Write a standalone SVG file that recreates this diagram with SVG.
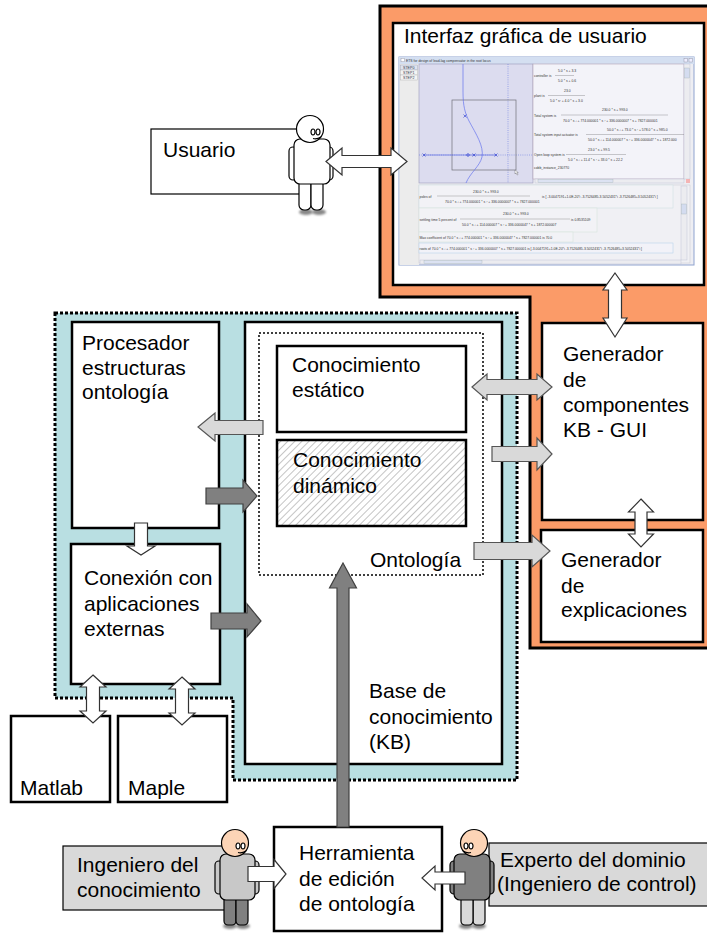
<svg xmlns="http://www.w3.org/2000/svg" width="707" height="938" viewBox="0 0 707 938">
  <style>
    .box { fill: #ffffff; stroke: #000000; stroke-width: 2.5; }
    .thin { fill: #ffffff; stroke: #000000; stroke-width: 1.2; }
    .grey { fill: #d9d9d9; stroke: #000000; stroke-width: 1.2; }
    .lbl { font-family: "Liberation Sans", Arial, sans-serif; font-size: 21px; fill: #000000; }
    .arW { fill: #ffffff; stroke: #333333; stroke-width: 1.2; stroke-linejoin: miter; }
    .arL { fill: #d9d9d9; stroke: #555555; stroke-width: 1.2; }
    .arD { fill: #808080; stroke: #404040; stroke-width: 1.2; }
    .tiny { font-family: "Liberation Sans", Arial, sans-serif; font-size: 3.4px; fill: #333333; }
    .tab { font-family: "Liberation Sans", Arial, sans-serif; font-size: 3.6px; fill: #334; }
    .fig { stroke: #000000; stroke-width: 1.2; }
  </style>
  <defs>
    <pattern id="hatch" width="5" height="5" patternUnits="userSpaceOnUse" patternTransform="rotate(45)">
      <rect width="5" height="5" fill="#ffffff"/>
      <line x1="0" y1="0" x2="0" y2="5" stroke="#c4c4c4" stroke-width="2"/>
    </pattern>
    <filter id="soft" x="-50%" y="-50%" width="200%" height="200%">
      <feGaussianBlur stdDeviation="1.2"/>
    </filter>
  </defs>

  <rect width="707" height="938" fill="#ffffff"/>

  <!-- Application region (orange) -->
  <g id="app-region">
    <path d="M380,6 H712 V648 H530 V297 H380 Z" fill="#fb9b68" stroke="#000" stroke-width="3"/>
  </g>

  <!-- Core region (light blue, dotted border) -->
  <g id="core-region">
    <path d="M55,313 H517 V780 H233 V698 H55 Z" fill="#b9dfe2" stroke="#000" stroke-width="3" stroke-dasharray="3 2"/>
  </g>

  <!-- GUI panel with screenshot -->
  <g id="gui">
    <rect x="393" y="23" width="311" height="262" class="box" stroke-width="3"/>
    <text x="404" y="43" class="lbl">Interfaz gráfica de usuario</text>
    <g id="gui-window">
      <rect x="399" y="57" width="295" height="208" fill="#eeeef3" stroke="#8fa3cf" stroke-width="1"/>
      <rect x="399" y="57" width="295" height="7" fill="#d4dff1"/>
      <rect x="401" y="58.3" width="3.5" height="3.5" fill="#fff" stroke="#889" stroke-width="0.4"/>
      <text x="406" y="62.2" class="tiny" fill="#445">ETS for design of lead-lag compensator in the root locus</text>
      <rect x="684" y="58.5" width="3.5" height="3.5" fill="#eef" stroke="#889" stroke-width="0.4"/>
      <rect x="689" y="58.5" width="3.5" height="3.5" fill="#eef" stroke="#889" stroke-width="0.4"/>
      <!-- step tabs -->
      <rect x="399.5" y="64" width="19.5" height="201" fill="#ececec"/>
      <rect x="400.5" y="65" width="17" height="5" fill="#dde3ef" stroke="#99a" stroke-width="0.4"/>
      <rect x="400.5" y="70" width="17" height="5" fill="#f4f4f4" stroke="#aaa" stroke-width="0.4"/>
      <rect x="400.5" y="75" width="17" height="5" fill="#f4f4f4" stroke="#aaa" stroke-width="0.4"/>
      <text x="403" y="69" class="tab">STEP0</text>
      <text x="403" y="74" class="tab">STEP1</text>
      <text x="403" y="79" class="tab">STEP2</text>
      <!-- root locus plot -->
      <rect x="419" y="64" width="114" height="119" fill="#dcdcef" stroke="#9a9ab8" stroke-width="0.6"/>
      <line x1="508" y1="64" x2="508" y2="183" stroke="#6b7de0" stroke-width="0.6" stroke-dasharray="1 1.2"/>
      <line x1="419" y1="155" x2="533" y2="155" stroke="#6b7de0" stroke-width="0.6" stroke-dasharray="1 1.2"/>
      <rect x="452" y="100" width="64" height="70" fill="none" stroke="#6f6f7a" stroke-width="0.7"/>
      <path d="M463,64 L463,92 C463,106 465,113 469,121 C476,134 484,146 482,157 C480,166 470,173 466,183" fill="none" stroke="#6674ee" stroke-width="0.7"/>
      <line x1="424" y1="155" x2="496" y2="155" stroke="#4a5ae0" stroke-width="0.6"/>
      <g stroke="#2233cc" stroke-width="0.6" fill="none">
        <path d="M422.5,153.5 l3,3 m0,-3 l-3,3"/>
        <path d="M463.5,114.5 l3,3 m0,-3 l-3,3"/>
        <path d="M494.5,153.5 l3,3 m0,-3 l-3,3"/>
        <path d="M472.5,153.5 l3,3 m0,-3 l-3,3"/>
        <circle cx="468" cy="155" r="1.3"/>
      </g>
      <path d="M515,170 l0,4 l1,-1 l1.2,2 l0.8,-0.4 l-1.2,-2 l1.5,0 Z" fill="#fff" stroke="#333" stroke-width="0.3"/>
      <!-- result text panel -->
      <rect x="533" y="64" width="151" height="115" fill="#f3f3f9" stroke="#b4a4b4" stroke-width="0.6"/>
      <rect x="684" y="64" width="6" height="115" fill="#ececf0" stroke="#b8bcd0" stroke-width="0.4"/>
      <rect x="684.5" y="68" width="5" height="10" fill="#d4dcf0" stroke="#9aa" stroke-width="0.3"/>
      <rect x="535" y="179" width="149" height="4" fill="#ececf0" stroke="#b8bcd0" stroke-width="0.4"/>
      <rect x="538" y="179.5" width="75" height="3" fill="#dce2f2" stroke="#9aa" stroke-width="0.3"/>
      <rect x="686" y="179" width="4" height="4" fill="#f4b4b4"/>
      <g class="tiny">
        <text x="534" y="77">controller  is</text>
        <text x="558" y="71.5">5.0 * s + 3.3</text>
        <line x1="555" y1="75.5" x2="574" y2="75.5" stroke="#555" stroke-width="0.3"/>
        <text x="558" y="82">5.0 * s + 0.6</text>
        <text x="534" y="97">plant  is</text>
        <text x="564" y="91.5">23.0</text>
        <line x1="548" y1="95.5" x2="585" y2="95.5" stroke="#555" stroke-width="0.3"/>
        <text x="550" y="101.5">5.0 * s² + 4.0 * s + 3.0</text>
        <text x="534" y="117">Total system  is</text>
        <text x="602" y="111">230.0 * s + 993.0</text>
        <line x1="561" y1="115" x2="668" y2="115" stroke="#555" stroke-width="0.3"/>
        <text x="563" y="121.5">70.0 * s ³ + 774.000001 * s ² + 336.0000007 * s + 7827.000001</text>
        <text x="534" y="136">Total system input actuator  is</text>
        <text x="607" y="131">50.0 * s ³ + 73.0 * s ² + 578.0 * s + 985.0</text>
        <line x1="586" y1="134.5" x2="684" y2="134.5" stroke="#555" stroke-width="0.3"/>
        <text x="588" y="141">50.0 * s ³ + 114.000007 * s ² + 336.0000047 * s + 1872.000</text>
        <text x="534" y="156">Open loop system  is</text>
        <text x="588" y="151">23.0 * s + 99.5</text>
        <line x1="566" y1="154.5" x2="626" y2="154.5" stroke="#555" stroke-width="0.3"/>
        <text x="568" y="161">5.0 * s ³ + 11.4 * s ² + 33.0 * s + 22.2</text>
        <text x="534" y="169">cobb_instance_230770</text>
      </g>
      <!-- lower results panel -->
      <rect x="419" y="185" width="271" height="78" fill="#f0f0f4" stroke="#c8c8d0" stroke-width="0.5"/>
      <rect x="419" y="185" width="254" height="23" fill="#f2f2f6" stroke="#cfe0e4" stroke-width="0.6"/>
      <rect x="419" y="208" width="178" height="24" fill="#f2f2f6" stroke="#d6e4dc" stroke-width="0.6"/>
      <rect x="419" y="232" width="154" height="10" fill="#f2f2f6" stroke="#d6e4dc" stroke-width="0.6"/>
      <rect x="419" y="243" width="254" height="10" fill="#f2f2f8" stroke="#b8d4ec" stroke-width="0.6"/>
      <rect x="681" y="186" width="6" height="74" fill="#ececf0" stroke="#b8bcd0" stroke-width="0.4"/>
      <rect x="681.5" y="204" width="5" height="10" fill="#d4dcf0" stroke="#9aa" stroke-width="0.3"/>
      <rect x="420" y="260" width="261" height="4" fill="#ececf0" stroke="#b8bcd0" stroke-width="0.4"/>
      <rect x="424" y="260.5" width="58" height="3" fill="#dce2f2" stroke="#9aa" stroke-width="0.3"/>
      <g class="tiny">
        <text x="419.5" y="198">poles  of</text>
        <text x="473" y="193">230.0 * s + 993.0</text>
        <line x1="437" y1="196" x2="530" y2="196" stroke="#555" stroke-width="0.3"/>
        <text x="445" y="203">70.0 * s ³ + 774.000001 * s ² + 336.0000007 * s + 7827.000001</text>
        <text x="542" y="198">is [ -3.0047191+1.0E-20*i  -3.7526485-3.5052431*i  -3.7526485+3.5052431*i  ]</text>
        <text x="419.5" y="221">settling time 5 percent  of</text>
        <text x="503" y="215">230.0 * s + 993.0</text>
        <line x1="460" y1="219" x2="570" y2="219" stroke="#555" stroke-width="0.3"/>
        <text x="462" y="225.5">50.0 * s ³ + 114.000007 * s ² + 336.0000047 * s + 1872.000007</text>
        <text x="571" y="221">is 0.8535109</text>
        <text x="419.5" y="238.5">Max coefficient  of  70.0 * s ³ + 774.000001 * s ² + 336.0000047 * s + 7827.000001   is 70.0</text>
        <text x="419.5" y="249.5">roots  of  70.0 * s ³ + 774.000001 * s ² + 336.0000007 * s + 7827.000001   is [-3.0047191+1.0E-20*i  -3.7526485-3.5052431*i  -3.7526485+3.5052431*i  ]</text>
      </g>
    </g>
  </g>

  <!-- Knowledge base -->
  <g id="kb">
    <rect x="245" y="322" width="257" height="442" class="box"/>
    <text class="lbl"><tspan x="369" y="698">Base de</tspan><tspan x="369" y="724">conocimiento</tspan><tspan x="369" y="749">(KB)</tspan></text>
  </g>

  <g id="ontologia">
    <rect x="259" y="333" width="224" height="242" fill="none" stroke="#000" stroke-width="1.5" stroke-dasharray="2 2"/>
    <text x="370" y="567" class="lbl">Ontología</text>
  </g>

  <g id="estatico">
    <rect x="277" y="346" width="189" height="86" class="box"/>
    <text class="lbl"><tspan x="292" y="372">Conocimiento</tspan><tspan x="292" y="397">estático</tspan></text>
  </g>

  <g id="dinamico">
    <rect x="277" y="440" width="189" height="86" fill="url(#hatch)" stroke="#000" stroke-width="2.5"/>
    <text class="lbl"><tspan x="293" y="467">Conocimiento</tspan><tspan x="293" y="493">dinámico</tspan></text>
  </g>

  <g id="procesador">
    <rect x="72" y="322" width="147" height="206" class="box"/>
    <text class="lbl"><tspan x="82" y="350">Procesador</tspan><tspan x="82" y="375">estructuras</tspan><tspan x="82" y="399">ontología</tspan></text>
  </g>

  <g id="conexion">
    <rect x="71" y="544" width="149" height="140" class="box"/>
    <text class="lbl"><tspan x="84" y="585">Conexión con</tspan><tspan x="84" y="611">aplicaciones</tspan><tspan x="84" y="636">externas</tspan></text>
  </g>

  <g id="matlab">
    <rect x="11" y="716" width="99" height="86" class="box"/>
    <text x="20" y="795" class="lbl">Matlab</text>
  </g>

  <g id="maple">
    <rect x="118" y="716" width="109" height="86" class="box"/>
    <text x="128" y="795" class="lbl">Maple</text>
  </g>

  <g id="gen-componentes">
    <rect x="542" y="323" width="161" height="197" class="box"/>
    <text class="lbl"><tspan x="563" y="361">Generador</tspan><tspan x="563" y="387">de</tspan><tspan x="563" y="412">componentes</tspan><tspan x="563" y="437">KB - GUI</tspan></text>
  </g>

  <g id="gen-explicaciones">
    <rect x="541" y="530" width="162" height="112" class="box"/>
    <text class="lbl"><tspan x="561" y="567">Generador</tspan><tspan x="561" y="593">de</tspan><tspan x="561" y="617">explicaciones</tspan></text>
  </g>

  <g id="herramienta">
    <rect x="274" y="827" width="168" height="104" class="box"/>
    <text class="lbl"><tspan x="299" y="860">Herramienta</tspan><tspan x="299" y="886">de edición</tspan><tspan x="299" y="911">de ontología</tspan></text>
  </g>

  <!-- Actors -->
  <g id="usuario">
    <rect x="151" y="129" width="152" height="65" class="thin"/>
    <text x="163" y="157" class="lbl">Usuario</text>
    <g transform="translate(310,129)" class="fig">
      <ellipse cx="-4" cy="83" rx="7" ry="3" fill="#888" stroke="none" filter="url(#soft)"/>
      <ellipse cx="9" cy="83" rx="7" ry="3" fill="#888" stroke="none" filter="url(#soft)"/>
      <rect x="-11" y="50" width="12" height="31" rx="5" fill="#fff"/>
      <rect x="1" y="50" width="12" height="31" rx="5" fill="#fff"/>
      <rect x="-21" y="18" width="8" height="33" rx="4" fill="#fff"/>
      <rect x="15" y="18" width="8" height="33" rx="4" fill="#fff"/>
      <rect x="-16" y="10" width="36" height="45" rx="6" fill="#fff"/>
      <circle cx="0" cy="0" r="13.5" fill="#fff"/>
      <ellipse cx="3" cy="3" rx="2" ry="3" fill="#fff"/>
      <ellipse cx="8" cy="3" rx="2" ry="3" fill="#fff"/>
      <path d="M3,9.5 Q7,10.5 11,8" fill="none"/>
    </g>
  </g>

  <g id="ingeniero">
    <rect x="63" y="846" width="165" height="64" class="grey"/>
    <text class="lbl"><tspan x="77" y="872">Ingeniero del</tspan><tspan x="77" y="897">conocimiento</tspan></text>
    <g transform="translate(235,843)" class="fig">
      <ellipse cx="-5" cy="83" rx="7" ry="3" fill="#888" stroke="none" filter="url(#soft)"/>
      <ellipse cx="8" cy="83" rx="7" ry="3" fill="#888" stroke="none" filter="url(#soft)"/>
      <rect x="-11" y="52" width="12" height="30" rx="4" fill="#808080"/>
      <rect x="1" y="52" width="12" height="30" rx="4" fill="#808080"/>
      <rect x="-20" y="18" width="8" height="33" rx="4" fill="#c8c8c8"/>
      <rect x="16" y="18" width="8" height="33" rx="4" fill="#c8c8c8"/>
      <rect x="-15" y="11" width="35" height="46" rx="6" fill="#c8c8c8"/>
      <circle cx="0" cy="0" r="13.5" fill="#fcd4b6"/>
      <ellipse cx="3" cy="3" rx="2" ry="3" fill="#fff"/>
      <ellipse cx="8" cy="3" rx="2" ry="3" fill="#fff"/>
      <path d="M3,9.5 Q7,10.5 11,8" fill="none"/>
    </g>
  </g>

  <g id="experto">
    <rect x="489" y="843" width="224" height="63" class="grey"/>
    <text class="lbl"><tspan x="500" y="867">Experto del dominio</tspan><tspan x="497" y="891">(Ingeniero de control)</tspan></text>
    <g transform="translate(474,843) scale(-1,1)" class="fig">
      <ellipse cx="-5" cy="83" rx="7" ry="3" fill="#888" stroke="none" filter="url(#soft)"/>
      <ellipse cx="8" cy="83" rx="7" ry="3" fill="#888" stroke="none" filter="url(#soft)"/>
      <rect x="-11" y="52" width="12" height="30" rx="4" fill="#d9d9d9"/>
      <rect x="1" y="52" width="12" height="30" rx="4" fill="#d9d9d9"/>
      <rect x="-20" y="18" width="8" height="33" rx="4" fill="#808080"/>
      <rect x="16" y="18" width="8" height="33" rx="4" fill="#808080"/>
      <rect x="-16" y="11" width="36" height="46" rx="6" fill="#808080"/>
      <circle cx="0" cy="0" r="13.5" fill="#fcd4b6"/>
      <ellipse cx="3" cy="3" rx="2" ry="3" fill="#fff"/>
      <ellipse cx="8" cy="3" rx="2" ry="3" fill="#fff"/>
      <path d="M3,9.5 Q7,10.5 11,8" fill="none"/>
    </g>
  </g>

  <!-- Connectors -->
  <g id="connectors">
    <!-- white (interaction) arrows -->
    <polygon class="arW" points="326,161.5 342,148 342,155.5 391,155.5 391,148 407,161.5 391,175 391,167.5 342,167.5 342,175"/>
    <polygon class="arW" points="615,273 627,290 621.5,290 621.5,318 627,318 615,337 603,318 608.5,318 608.5,290 603,290"/>
    <polygon class="arW" points="641,499 653.5,512 647,512 647,534 653.5,534 641,547 628.5,534 635,534 635,512 628.5,512"/>
    <polygon class="arW" points="134.5,523 147.5,523 147.5,546 155,546 141,555 127,546 134.5,546"/>
    <polygon class="arW" points="93,675 106,687 99.5,687 99.5,711 106,711 93,723 80,711 86.5,711 86.5,687 80,687"/>
    <polygon class="arW" points="182,677 195,689 188.5,689 188.5,713 195,713 182,725 169,713 175.5,713 175.5,689 169,689"/>
    <polygon class="arW" points="248,866.5 274,866.5 274,859.5 286,874 274,888.5 274,881.5 248,881.5"/>
    <polygon class="arW" points="465,872 435,872 435,866 422,878 435,890 435,884 465,884"/>
    <!-- light grey arrows -->
    <polygon class="arL" points="472,387 487,374 487,379.5 537,379.5 537,374 552,387 537,400 537,394.5 487,394.5 487,400"/>
    <polygon class="arL" points="492,446.5 537,446.5 537,438 552,454 537,470 537,461.5 492,461.5"/>
    <polygon class="arL" points="474,542.5 532,542.5 532,535 550,551 532,567 532,559.5 474,559.5"/>
    <polygon class="arL" points="263,420.5 215,420.5 215,413 198,427 215,441 215,434.5 263,434.5"/>
    <!-- dark grey arrows -->
    <polygon class="arD" points="206,488 243,488 243,480 257,496 243,512 243,504 206,504"/>
    <polygon class="arD" points="211,613 247,613 247,604 261,621 247,637 247,629 211,629"/>
    <polygon class="arD" points="343,563 356.5,588 349,588 349,827 337,827 337,588 329.5,588"/>
  </g>
</svg>
